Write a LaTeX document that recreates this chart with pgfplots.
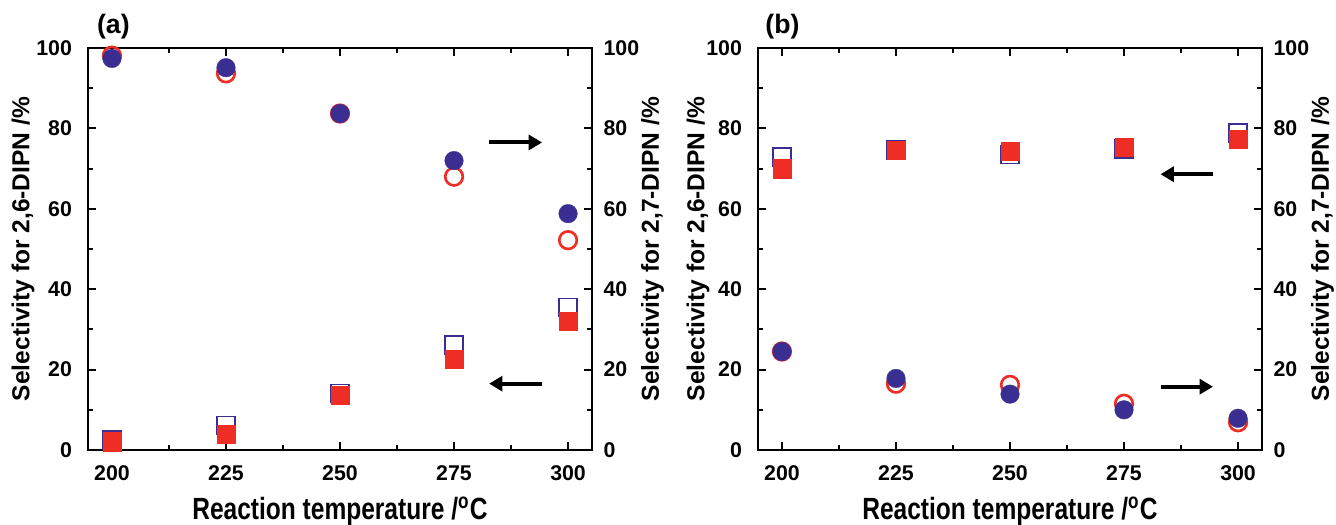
\documentclass[border=0pt]{standalone}
\usepackage{fontspec}
\setmainfont{Liberation Sans}
\newfontfamily\condfont[FakeStretch=0.8]{Liberation Sans}
\usepackage{pgfplots}
\pgfplotsset{compat=1.18}
\usetikzlibrary{arrows.meta}
\definecolor{myblue}{HTML}{3A2E92}
\definecolor{myred}{HTML}{EE2E24}
\newcommand{\ylblfont}{\bfseries\fontsize{9.2}{11}\selectfont}
\newcommand{\xlblfont}{\condfont\bfseries\fontsize{11.5}{13}\selectfont}
\tikzset{arr/.style={-{Triangle[length=5pt,width=5.6pt]}, line width=1.5pt, black}}
\pgfplotsset{
  panel/.style={
    scale only axis, width=189pt, height=150.75pt,
    xmin=194.75, xmax=305.25, ymin=0, ymax=100,
    xtick={200,225,250,275,300}, minor xtick={212.5,237.5,262.5,287.5},
    ytick={0,20,...,100}, minor ytick={10,30,50,70,90},
    tick align=inside, major tick length=3pt, minor tick length=1.8pt,
    axis line style={line width=1pt},
    every tick/.style={line width=0.8pt, black},
    tick label style={font=\bfseries\fontsize{8}{9.5}\selectfont},
    xticklabel style={yshift=-2.5pt},
    /pgf/number format/assume math mode=true,
    clip=false,
    every axis x label/.style={at={(axis description cs:0.5,-0.174)}, anchor=base, font=\xlblfont},
  },
  leftax/.style={panel, xtick pos=both, ytick pos=both, yticklabel pos=left,
    yticklabel style={xshift=-2.5pt},
    every axis y label/.style={at={(axis description cs:#1,0.5)}, anchor=center, rotate=90, font=\ylblfont},
    ylabel={Selectivity for 2,6-DIPN /\%},
    xlabel={Reaction temperature /\textsuperscript{o}C}},
  rightax/.style={panel, axis y line*=right, axis x line=none,
    yticklabel style={xshift=0.8pt},
    every axis y label/.style={at={(axis description cs:1.12,0.5)}, anchor=center, rotate=90, font=\ylblfont},
    ylabel={Selectivity for 2,7-DIPN /\%}},
  osq/.style={only marks, mark=square, mark size=3.4pt, mark options={draw=myblue, line width=0.5pt}},
  fsq/.style={only marks, mark=square*, mark size=3.4pt, mark options={draw=myred, fill=myred, line width=0.1pt}},
  oci/.style={only marks, mark=o, mark size=3.3pt, mark options={draw=myred, line width=1pt}},
  fci/.style={only marks, mark=*, mark size=3.5pt, mark options={draw=myblue, fill=myblue, line width=0.1pt}},
}
\begin{document}
\begin{tikzpicture}
\path[use as bounding box] (0,0) rectangle (501pt,196.5pt);
% ---------- panel (a)
\begin{axis}[leftax=-0.129, at={(33pt,27.75pt)}, anchor=south west]
\addplot[osq] coordinates {(200,2.5) (225,6.1) (250,14) (275,26.1) (300,35.4)};
\addplot[fsq] coordinates {(200,2.1) (225,4.0) (250,13.6) (275,22.5) (300,32.1)};
\draw[arr] (axis cs:294.3,16.5) -- (axis cs:282.7,16.5);
\node[anchor=base west, font=\bfseries\fontsize{10}{12}\selectfont, inner sep=0pt] at ([xshift=3.2pt,yshift=5.6pt]rel axis cs:0,1) {(a)};
\end{axis}
\begin{axis}[rightax, at={(33pt,27.75pt)}, anchor=south west]
\addplot[oci] coordinates {(200,98.1) (225,93.7) (250,83.7) (275,68) (300,52.2)};
\addplot[fci] coordinates {(200,97.4) (225,95.1) (250,83.7) (275,72) (300,58.8)};
\draw[arr] (axis cs:282.7,76.5) -- (axis cs:294.3,76.5);
\end{axis}
% ---------- panel (b)
\begin{axis}[leftax=-0.119, at={(284.25pt,27.75pt)}, anchor=south west]
\addplot[osq] coordinates {(200,72.9) (225,74.6) (250,73.5) (275,74.9) (300,78.8)};
\addplot[fsq] coordinates {(200,70) (225,74.6) (250,74.4) (275,75.4) (300,77.3)};
\draw[arr] (axis cs:294.5,68.6) -- (axis cs:283,68.6);
\node[anchor=base west, font=\bfseries\fontsize{10}{12}\selectfont, inner sep=0pt] at ([xshift=2.6pt,yshift=5.6pt]rel axis cs:0,1) {(b)};
\end{axis}
\begin{axis}[rightax, at={(284.25pt,27.75pt)}, anchor=south west]
\addplot[oci] coordinates {(200,24.5) (225,16.5) (250,16.2) (275,11.5) (300,6.9)};
\addplot[fci] coordinates {(200,24.5) (225,17.8) (250,13.9) (275,10) (300,7.9)};
\draw[arr] (axis cs:283,15.75) -- (axis cs:294.5,15.75);
\end{axis}
\end{tikzpicture}
\end{document}
